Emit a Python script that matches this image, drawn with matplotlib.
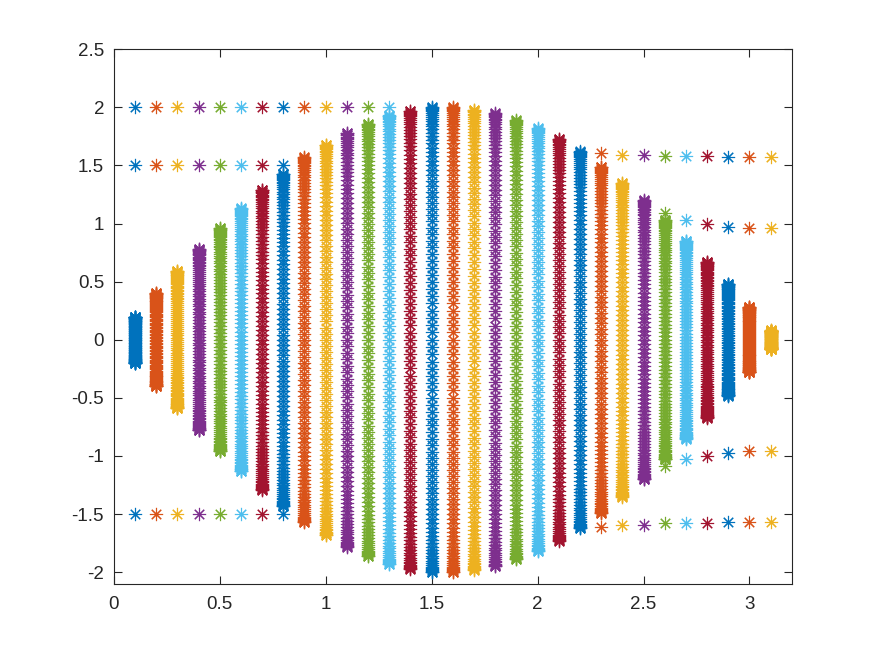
import matplotlib.pyplot as plt
import numpy as np

# MATLAB default colour order
COLORS = ['#0072BD', '#D95319', '#EDB120', '#7E2F8E', '#77AC30', '#4DBEEE', '#A2142F']

# column positions and half-height of each dense strip
x_cols = [0.1, 0.2, 0.3, 0.4, 0.5, 0.6, 0.7, 0.8, 0.9, 1.0, 1.1, 1.2, 1.3, 1.4, 1.5, 1.6,
          1.7, 1.8, 1.9, 2.0, 2.1, 2.2, 2.3, 2.4, 2.5, 2.6, 2.7, 2.8, 2.9, 3.0, 3.1]
strip_half = [0.20, 0.40, 0.59, 0.78, 0.96, 1.13, 1.29, 1.43, 1.57, 1.68, 1.78, 1.86, 1.93,
              1.97, 2.00, 2.00, 1.98, 1.95, 1.89, 1.82, 1.73, 1.62, 1.49, 1.35, 1.20, 1.03,
              0.85, 0.67, 0.48, 0.28, 0.08]
points_per_strip = 101

# isolated points on the left side
left_top_x = [0.1, 0.2, 0.3, 0.4, 0.5, 0.6, 0.7, 0.8, 0.9, 1.0, 1.1, 1.2, 1.3]
left_top_y = 2.0
left_pm_x = [0.1, 0.2, 0.3, 0.4, 0.5, 0.6, 0.7, 0.8]
left_pm_y = 1.5

# isolated points on the right side (plus/minus pairs)
right_outer_x = [2.3, 2.4, 2.5, 2.6, 2.7, 2.8, 2.9, 3.0, 3.1]
right_outer_y = [1.61, 1.59, 1.59, 1.58, 1.58, 1.58, 1.57, 1.57, 1.57]
right_inner_x = [2.6, 2.7, 2.8, 2.9, 3.0, 3.1]
right_inner_y = [1.09, 1.03, 1.00, 0.97, 0.96, 0.96]

STAR = (8, 2, 0)


def extra_points(x):
    ys = []
    if x in left_top_x:
        ys.append(left_top_y)
    if x in left_pm_x:
        ys += [left_pm_y, -left_pm_y]
    if x in right_outer_x:
        v = right_outer_y[right_outer_x.index(x)]
        ys += [v, -v]
    if x in right_inner_x:
        v = right_inner_y[right_inner_x.index(x)]
        ys += [v, -v]
    return ys


fig = plt.figure(figsize=(8.75, 6.56), dpi=100)
ax = fig.add_axes([0.13, 0.11, 0.775, 0.815])

t = np.linspace(0, np.pi, points_per_strip)
for i, (x, h) in enumerate(zip(x_cols, strip_half)):
    c = COLORS[i % len(COLORS)]
    ys = list(h * np.cos(t)) + extra_points(x)
    ax.plot([x] * len(ys), ys, linestyle='none', marker=STAR, markersize=9.5,
            markeredgewidth=0.8, color=c)

ax.set_xlim(0, 3.2)
ax.set_ylim(-2.1, 2.5)
ax.set_xticks([0, 0.5, 1, 1.5, 2, 2.5, 3])
ax.set_xticklabels(['0', '0.5', '1', '1.5', '2', '2.5', '3'])
ax.set_yticks([-2, -1.5, -1, -0.5, 0, 0.5, 1, 1.5, 2, 2.5])
ax.set_yticklabels(['-2', '-1.5', '-1', '-0.5', '0', '0.5', '1', '1.5', '2', '2.5'])

for s in ax.spines.values():
    s.set_color('#262626')
    s.set_linewidth(0.8)
ax.tick_params(direction='in', top=True, right=True, length=6, width=0.8,
               colors='#262626', labelsize=13.5)
ax.tick_params(axis='x', pad=9)
ax.tick_params(axis='y', pad=7)
for lbl in ax.get_xticklabels() + ax.get_yticklabels():
    lbl.set_family('Liberation Sans')

fig.savefig('out.png', dpi=100)
plt.close(fig)
